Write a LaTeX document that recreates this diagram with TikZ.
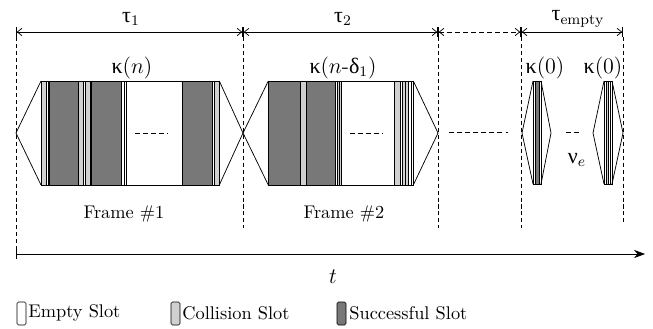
\documentclass[tikz,border=0pt]{standalone}
\usepackage{fontspec}
\usetikzlibrary{arrows.meta}
\newfontfamily\grk{Liberation Serif}
\newcommand{\gk}[1]{\mbox{\grk #1}}
\definecolor{darkslot}{HTML}{787878}
\definecolor{lightslot}{HTML}{D0D0D0}
\begin{document}
\begin{tikzpicture}[x=0.545pt,y=-0.545pt,line width=0.4pt,
  sE/.style={draw,fill=white,line width=0.3pt},
  sC/.style={draw,fill=lightslot,line width=0.3pt},
  sS/.style={draw,fill=darkslot,line width=0.3pt},
  guide/.style={dash pattern=on 2.2pt off 1.6pt},
  dots/.style={dash pattern=on 2.7pt off 1.7pt},
  span/.style={{Bar[width=5.5pt]Straight Barb[length=2.5pt,width=4pt]}-{Straight Barb[length=2.5pt,width=4pt]Bar[width=5.5pt]}},
  mlabel/.style={font=\large,inner sep=0pt},
  tlabel/.style={inner sep=0pt}]
\useasboundingbox (0,0) rectangle (653,328);
% guide coordinates
\coordinate (g1t) at (16,32);  \coordinate (g1b) at (16,254);
\coordinate (g2t) at (243,32); \coordinate (g2b) at (243,228);
\coordinate (g3t) at (438,32); \coordinate (g3b) at (438,228);
\coordinate (g4t) at (521,32); \coordinate (g4b) at (521,228);
\coordinate (g5t) at (623,32); \coordinate (g5b) at (623,224);
\foreach \g/\b in {g1t/g1b,g2t/g2b,g3t/g3b,g4t/g4b,g5t/g5b}
  \draw[guide] ([yshift=-2.8pt]\g) -- (\b);
% span arrows
\draw[span] (g1t) -- (g2t);
\draw[span] (g2t) -- (g3t);
\draw[span,dots] (g3t) -- (g4t);
\draw[span] (g4t) -- (g5t);
\node[mlabel] (tau1) at (131,19) {$\gk{τ}_1$};
\node[mlabel] (tau2) at (343,19) {$\gk{τ}_2$};
\node[mlabel] (taue) at (578,19) {$\gk{τ}_{\mathrm{empty}}$};
% frame tips
\coordinate (f1L) at (16,133);
\coordinate (f1R) at (243,133);
\coordinate (f2R) at (438,133);
\coordinate (e1L) at (522,133);
\coordinate (e1R) at (551,133);
\coordinate (e2L) at (593,133);
\coordinate (e2R) at (623,133);
% frame 1 slots
\foreach \a/\b/\s in {41/46.7/sC,46.7/48/sE,48/49.3/sE,49.3/78.3/sS,78.3/83.3/sC,83.3/85.7/sE,85.7/90/sC,90/91.7/sE,91.7/121.7/sS,121.7/124/sE,124/126/sE,126/182.3/sE,182.3/212.3/sS,212.3/214.3/sE,214.3/219.3/sC}
  \draw[\s] (\a,81) rectangle (\b,185);
% frame 2 slots
\foreach \a/\b/\s in {268.3/300/sS,300/306/sC,306/306.7/sE,306.7/335/sS,335/337.3/sE,337.3/339.5/sC,339.5/341.7/sC,341.7/394/sE,394/400.7/sC,400.7/402.3/sE,402.3/405/sC,405/408.3/sC,408.3/411/sE,411/413.3/sE}
  \draw[\s] (\a,81) rectangle (\b,185);
% empty frames
\foreach \a/\b/\s in {533/535.5/sE,535.5/539/sS,539/541/sE,604/606/sE,606/608/sC,608/610/sE,610/612/sE}
  \draw[\s] (\a,81) rectangle (\b,184);
% hexagon sides
\draw (41,81) -- (f1L) -- (41,185);
\draw (219.3,81) -- (f1R) -- (219.3,185);
\draw (268.3,81) -- (f1R) -- (268.3,185);
\draw (413.3,81) -- (f2R) -- (413.3,185);
\draw (533,81) -- (e1L) -- (533,184);
\draw (541,81) -- (e1R) -- (541,184);
\draw (604,81) -- (e2L) -- (604,184);
\draw (612,81) -- (e2R) -- (612,184);
% dashes
\coordinate (d1a) at (135,133); \coordinate (d1b) at (168,133);
\coordinate (d2a) at (350,133); \coordinate (d2b) at (383,133);
\coordinate (d3a) at (449,132); \coordinate (d3b) at (508,132);
\coordinate (d4a) at (566,132); \coordinate (d4b) at (582,132);
\draw[dots] (d1a) -- (d1b);
\draw[dots] (d2a) -- (d2b);
\draw[dots] (d3a) -- (d3b);
\draw[dots] (d4a) -- (d4b);
% labels
\node[mlabel] (k1) at (132,68) {$\gk{κ}(n)$};
\node[mlabel] (k2) at (343,68) {$\gk{κ}(n\mbox{-}\gk{δ}_1)$};
\node[mlabel] (k3) at (545,68) {$\gk{κ}(0)$};
\node[mlabel] (k4) at (603,68) {$\gk{κ}(0)$};
\node[mlabel] (nu) at (577,160) {$\gk{ν}_e$};
\node[tlabel] (fr1) at (124,214) {Frame \#1};
\node[tlabel] (fr2) at (344,214) {Frame \#2};
% time axis
\coordinate (ax0) at (16,254);
\coordinate (ax1) at (645,254);
\draw[{Bar[width=5pt]}-{Stealth[length=6pt,width=4.5pt]}] (ax0) -- (ax1);
\node[mlabel] (tt) at (333,277) {$t$};
% legend
\draw[sE,rounded corners=0.8pt] (17,302) rectangle (26,325);
\node[tlabel,anchor=west] (le) at (28,313) {Empty Slot};
\draw[sC,rounded corners=0.8pt] (171,302) rectangle (180,325);
\node[tlabel,anchor=west] (lc) at (182,313) {Collision Slot};
\draw[sS,rounded corners=0.8pt] (337,302) rectangle (346,325);
\node[tlabel,anchor=west] (ls) at (349,313) {Successful Slot};
\end{tikzpicture}
\end{document}
